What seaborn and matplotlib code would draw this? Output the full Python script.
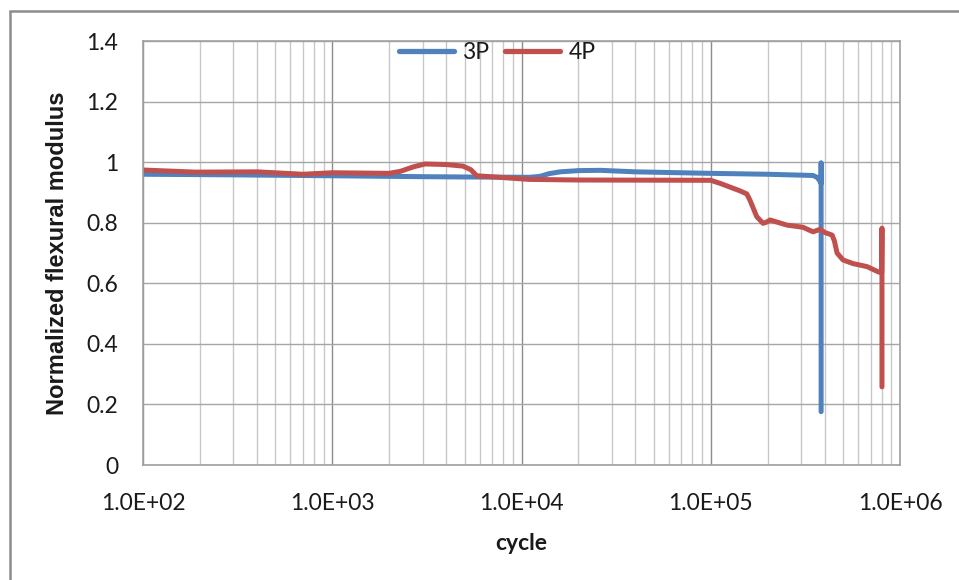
import numpy as np
import pandas as pd
import matplotlib
matplotlib.use("Agg")
import matplotlib.pyplot as plt
from matplotlib.patches import Rectangle
from matplotlib.ticker import LogLocator, FixedLocator, NullFormatter
import seaborn as sns

# 3-point bending: normalized modulus vs. cycle count
cycles_3p = [100, 300, 1000, 3000, 5000, 11000, 12500, 14000, 16000, 20000, 26000,
             40000, 100000, 200000, 347000, 364000, 375000, 383000, 383000, 383000]
modulus_3p = [0.960, 0.958, 0.955, 0.952, 0.951, 0.950, 0.953, 0.962, 0.968, 0.972, 0.973,
              0.968, 0.963, 0.960, 0.956, 0.950, 0.940, 0.930, 0.997, 0.176]

# 4-point bending: normalized modulus vs. cycle count
cycles_4p = [100, 190, 400, 700, 1000, 2000, 2300, 2700, 3100, 4000, 4900, 5400, 5800,
             11000, 20000, 100000, 112000, 143000, 155000, 161000, 175000, 189000,
             197000, 206000, 253000, 307000, 347000, 378000, 400000, 438000, 450000,
             465000, 500000, 565000, 670000, 766000, 800000, 803000, 803000]
modulus_4p = [0.974, 0.967, 0.968, 0.960, 0.965, 0.963, 0.970, 0.985, 0.994, 0.992, 0.987,
              0.975, 0.955, 0.943, 0.941, 0.940, 0.930, 0.905, 0.895, 0.875, 0.820, 0.798,
              0.802, 0.809, 0.792, 0.785, 0.770, 0.778, 0.768, 0.759, 0.740, 0.700, 0.677,
              0.665, 0.655, 0.638, 0.635, 0.782, 0.258]

series_names = ["3P", "4P"]
series_colors = ["#4F81BD", "#C0504D"]
y_ticks = [0, 0.2, 0.4, 0.6, 0.8, 1.0, 1.2, 1.4]
y_tick_labels = ["0", "0.2", "0.4", "0.6", "0.8", "1", "1.2", "1.4"]
x_ticks = [1e2, 1e3, 1e4, 1e5, 1e6]
x_tick_labels = ["1.0E+02", "1.0E+03", "1.0E+04", "1.0E+05", "1.0E+06"]

df = pd.concat([
    pd.DataFrame({"cycle": cycles_3p, "modulus": modulus_3p, "test": series_names[0]}),
    pd.DataFrame({"cycle": cycles_4p, "modulus": modulus_4p, "test": series_names[1]}),
], ignore_index=True)

sns.set_theme(style="white")
plt.rcParams["font.family"] = ["Lato", "DejaVu Sans"]

fig = plt.figure(figsize=(9.59, 5.80), dpi=100)
ax = fig.add_axes([143 / 959, 1 - 465 / 580, 757 / 959, 424 / 580])

sns.lineplot(data=df, x="cycle", y="modulus", hue="test", palette=series_colors,
             hue_order=series_names, sort=False, estimator=None, units="test",
             linewidth=3.6, ax=ax, legend=True)

ax.set_xscale("log")
ax.set_xlim(1e2, 1e6)
ax.set_ylim(0, 1.4)

# grid: decades darker, minor lines lighter
ax.xaxis.set_major_locator(FixedLocator(x_ticks))
ax.xaxis.set_minor_locator(LogLocator(base=10, subs=np.arange(2, 10)))
ax.xaxis.set_minor_formatter(NullFormatter())
ax.set_xticks(x_ticks)
ax.set_xticklabels(x_tick_labels)
ax.set_yticks(y_ticks)
ax.set_yticklabels(y_tick_labels)
ax.grid(which="major", axis="x", color="#8C8C8C", linewidth=1.0)
ax.grid(which="minor", axis="x", color="#C8C8C8", linewidth=1.0)
ax.grid(which="major", axis="y", color="#A6A6A6", linewidth=1.0)
ax.set_axisbelow(True)

ax.tick_params(axis="both", which="both", length=0, labelsize=16.5, colors="#1A1A1A")
ax.tick_params(axis="y", pad=18)
ax.tick_params(axis="x", pad=20)

for s in ax.spines.values():
    s.set_color("#A0A0A0")
    s.set_linewidth(1.2)

ax.set_xlabel("cycle", fontsize=16.5, fontweight="bold", labelpad=14, color="#1A1A1A")
ax.set_ylabel("Normalized flexural modulus", fontsize=17, fontweight="bold",
              family=["Liberation Sans", "DejaVu Sans"], labelpad=12, color="#1A1A1A")

leg = ax.legend(loc="center", bbox_to_anchor=(0.468, 0.974), ncol=2, frameon=False,
                fontsize=16.5, handlelength=2.4, columnspacing=0.7, handletextpad=0.35,
                borderpad=0)
for line in leg.get_lines():
    line.set_linewidth(3.8)
    line.set_solid_capstyle("round")
for t in leg.get_texts():
    t.set_color("#1A1A1A")

# chart area outline
fig.add_artist(Rectangle((10 / 959, -0.1), 1.2, 1.1 - 11 / 580, transform=fig.transFigure,
                         fill=False, edgecolor="#8C8C8C", linewidth=1.8))

fig.savefig("out.png", dpi=100)
